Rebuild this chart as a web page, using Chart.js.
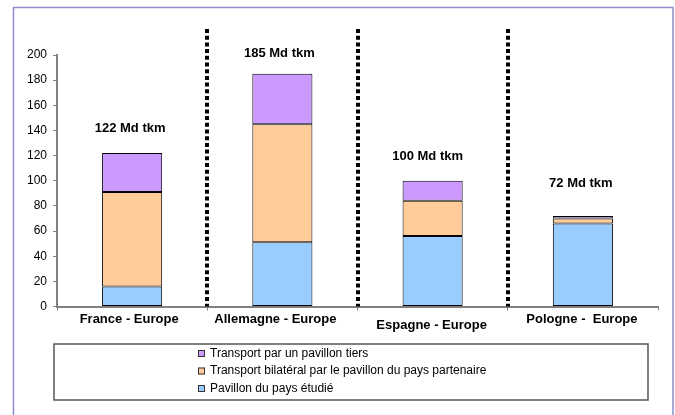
<!DOCTYPE html>
<html>
<head>
<meta charset="utf-8">
<script src="https://cdn.jsdelivr.net/npm/chart.js@4/dist/chart.umd.min.js"></script>
<style>
  html, body { margin: 0; padding: 0; background: #fff; }
  #wrap { width: 675px; height: 415px; position: relative; }
</style>
</head>
<body>
<div id="wrap"><canvas id="c" width="675" height="415"></canvas></div>
<script>
const categories = ["France - Europe", "Allemagne - Europe", "Espagne - Europe", "Pologne -  Europe"];
const pavillonEtudie = [16, 51, 56, 66];
const bilateral = [75, 94, 28, 4];
const tiers = [31, 40, 16, 2];
const totalLabels = ["122 Md tkm", "185 Md tkm", "100 Md tkm", "72 Md tkm"];
const yTicks = [0, 20, 40, 60, 80, 100, 120, 140, 160, 180, 200];

const seriesNames = ["Pavillon du pays étudié", "Transport bilatéral par le pavillon du pays partenaire", "Transport par un pavillon tiers"];
const seriesColors = ["#99CCFF", "#FFCC99", "#CC99FF"];

const FONT = "'Liberation Sans', Arial, sans-serif";

const decorPlugin = {
  id: 'decor',
  beforeDraw(chart) {
    const ctx = chart.ctx;
    ctx.save();
    ctx.fillStyle = '#fff';
    ctx.fillRect(0, 0, chart.width, chart.height);
    ctx.strokeStyle = '#8E8EC8';
    ctx.lineWidth = 1.5;
    ctx.strokeRect(13.5, 7.5, 659.5, 430);
    ctx.restore();
  },
  afterDraw(chart, args, opts) {
    const ctx = chart.ctx;
    const xs = chart.scales.x, ys = chart.scales.y;
    ctx.save();
    // dotted separators
    ctx.strokeStyle = '#000';
    ctx.lineWidth = 4;
    ctx.setLineDash([4, 2.7]);
    for (let i = 1; i < categories.length; i++) {
      const xp = Math.round((xs.getPixelForValue(i - 1) + xs.getPixelForValue(i)) / 2);
      ctx.beginPath();
      ctx.moveTo(xp, 29);
      ctx.lineTo(xp, ys.getPixelForValue(0));
      ctx.stroke();
    }
    ctx.setLineDash([]);
    // total labels
    ctx.fillStyle = '#000';
    ctx.textAlign = 'center';
    ctx.textBaseline = 'middle';
    ctx.font = 'bold 13px ' + FONT;
    for (let i = 0; i < categories.length; i++) {
      const tot = pavillonEtudie[i] + bilateral[i] + tiers[i];
      const xp = xs.getPixelForValue(i) + opts.totalDx[i];
      const yp = ys.getPixelForValue(tot) - opts.totalDy[i];
      ctx.fillText(totalLabels[i], xp, yp);
    }
    // category labels
    for (let i = 0; i < categories.length; i++) {
      const xp = xs.getPixelForValue(i) + opts.catDx[i];
      const yp = ys.getPixelForValue(0) + opts.catDy[i];
      ctx.fillText(categories[i], xp, yp);
    }
    // legend box
    const lb = opts.legendBox;
    ctx.strokeStyle = '#555';
    ctx.lineWidth = 1.5;
    ctx.strokeRect(lb.x, lb.y, lb.w, lb.h);
    ctx.font = '12px ' + FONT;
    ctx.textAlign = 'left';
    const order = [2, 1, 0];
    order.forEach((di, k) => {
      const ds = chart.data.datasets[di];
      const cy = lb.y + 9.5 + k * 17.5;
      ctx.fillStyle = ds.backgroundColor;
      ctx.fillRect(lb.x + 144, cy - 3.5, 7, 7);
      ctx.strokeStyle = '#333';
      ctx.lineWidth = 1;
      ctx.strokeRect(lb.x + 144.5, cy - 3, 6, 6);
      ctx.fillStyle = '#000';
      ctx.fillText(ds.label, lb.x + 156, cy);
    });
    ctx.restore();
  }
};

new Chart(document.getElementById('c'), {
  type: 'bar',
  data: {
    labels: categories,
    datasets: [
      { label: seriesNames[0], data: pavillonEtudie, backgroundColor: seriesColors[0] },
      { label: seriesNames[1], data: bilateral, backgroundColor: seriesColors[1] },
      { label: seriesNames[2], data: tiers, backgroundColor: seriesColors[2] }
    ].map(d => Object.assign(d, { borderColor: '#000', borderWidth: 1, borderSkipped: false, categoryPercentage: 0.8, barPercentage: 0.5 }))
  },
  options: {
    responsive: false,
    animation: false,
    devicePixelRatio: 1,
    layout: { padding: { left: 13, right: 17, top: 55, bottom: 70.5 } },
    plugins: {
      legend: { display: false },
      tooltip: { enabled: false },
      decor: {
        totalDx: [-2, -3, -5, -2],
        totalDy: [25, 20, 24, 33],
        catDx: [-3, -7, -1, -1],
        catDy: [13, 13, 19, 13],
        legendBox: { x: 54, y: 344, w: 594, h: 56 }
      }
    },
    scales: {
      x: {
        stacked: true,
        afterFit: s => { s.height = 38; },
        grid: { display: true, drawOnChartArea: false, drawTicks: true, tickLength: 4, color: '#808080', offset: true },
        border: { display: true, color: '#808080', width: 2 },
        ticks: { color: 'rgba(0,0,0,0)', font: { size: 12 } }
      },
      y: {
        stacked: true,
        min: 0, max: 200,
        afterFit: s => { s.width = 44; },
        afterBuildTicks: s => { s.ticks = yTicks.map(v => ({ value: v })); },
        grid: { display: true, drawOnChartArea: false, drawTicks: true, tickLength: 4, color: '#808080' },
        border: { display: true, color: '#808080', width: 2 },
        ticks: { color: '#000', padding: 6, font: { family: FONT, size: 12 } }
      }
    }
  },
  plugins: [decorPlugin]
});
</script>
</body>
</html>
